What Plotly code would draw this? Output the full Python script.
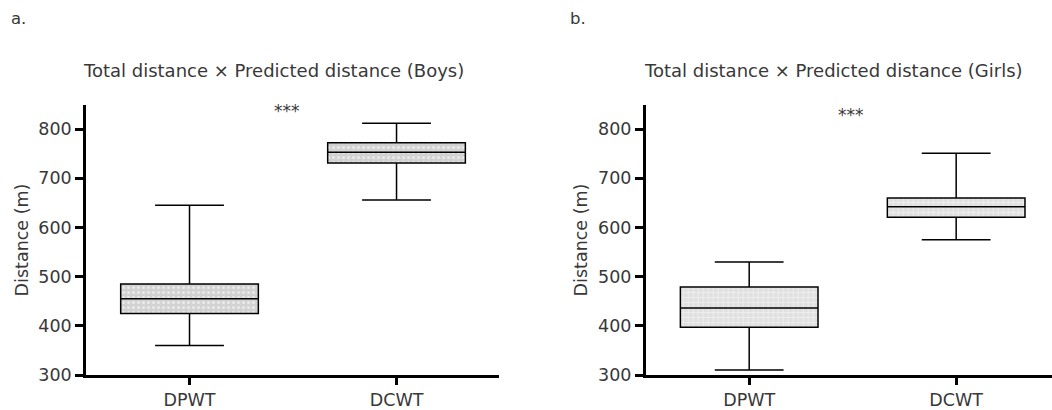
import plotly.graph_objects as go

categories = ["DPWT", "DCWT"]

boys_min = [360, 656]
boys_q1 = [425, 731]
boys_median = [455, 753]
boys_q3 = [485, 772]
boys_max = [645, 812]

girls_min = [310, 575]
girls_q1 = [397, 621]
girls_median = [436, 642]
girls_q3 = [479, 660]
girls_max = [530, 751]

titles = ["Total distance × Predicted distance (Boys)", "Total distance × Predicted distance (Girls)"]
panel_labels = ["a.", "b."]
y_title = "Distance (m)"
y_ticks = [300, 400, 500, 600, 700, 800]
sig = "***"

FONT = "DejaVu Sans"
W = "normal"
TXT = "#383838"

FW, FH = 1052, 410


def px(X):
    return X / FW


def py(Y):
    return 1 - Y / FH


def f(size):
    return dict(family=FONT, size=size, color=TXT, weight=W)


fig = go.Figure()

panels = [
    (boys_min, boys_q1, boys_median, boys_q3, boys_max, "x", "y", "#d2d2d2", "."),
    (girls_min, girls_q1, girls_median, girls_q3, girls_max, "x2", "y2", "#e0e0e0", "+"),
]
for mn, q1, md, q3, mx, xa, ya, fill, shp in panels:
    fig.add_trace(go.Bar(
        x=categories, base=q1, y=[b - a for a, b in zip(q1, q3)],
        width=0.665, xaxis=xa, yaxis=ya, showlegend=False, hoverinfo="skip",
        marker=dict(color=fill, line=dict(width=0),
                    pattern=dict(shape=shp, fgcolor="white", bgcolor=fill, size=5, solidity=0.3)),
    ))
    fig.add_trace(go.Box(
        x=categories, q1=q1, median=md, q3=q3, lowerfence=mn, upperfence=mx,
        width=0.665, whiskerwidth=0.5, xaxis=xa, yaxis=ya, showlegend=False,
        fillcolor="rgba(0,0,0,0)", line=dict(color="black", width=1.5),
        boxpoints=False,
    ))

axis_common = dict(showline=True, linecolor="black", linewidth=2.5, showgrid=False,
                   zeroline=False, ticks="outside", tickwidth=2.5, tickcolor="black",
                   tickfont=f(17.5), automargin=False)

fig.update_layout(
    width=FW, height=FH,
    margin=dict(l=0, r=0, t=0, b=0),
    plot_bgcolor="white", paper_bgcolor="white",
    barmode="overlay",
    xaxis=dict(domain=[px(86), px(499)], range=[-0.5, 1.495], ticklen=7, anchor="y", **axis_common),
    xaxis2=dict(domain=[px(645.7), 1.0], range=[-0.5, 1.463], ticklen=7, anchor="y2", **axis_common),
    yaxis=dict(domain=[py(375), py(105)], range=[300, 849], tickvals=y_ticks, ticklen=8, anchor="x",
               title=dict(text=y_title, font=f(17.5), standoff=6), **axis_common),
    yaxis2=dict(domain=[py(375), py(105)], range=[300, 849], tickvals=y_ticks, ticklen=8, anchor="x2",
                title=dict(text=y_title, font=f(17.5), standoff=6), **axis_common),
)

ann = []
for txt, xc in zip(titles, [273.5, 833.5]):
    ann.append(dict(text=txt, x=px(xc), y=py(70), xref="paper", yref="paper",
                    xanchor="center", yanchor="middle", showarrow=False, font=f(18)))
for txt, xl in zip(panel_labels, [9, 568]):
    ann.append(dict(text=txt, x=px(xl), y=py(18), xref="paper", yref="paper",
                    xanchor="left", yanchor="middle", showarrow=False, font=f(16.5)))
ann.append(dict(text=sig, x=0.47, y=836, xref="x", yref="y", showarrow=False,
                xanchor="center", yanchor="middle", font=f(17)))
ann.append(dict(text=sig, x=0.49, y=828, xref="x2", yref="y2", showarrow=False,
                xanchor="center", yanchor="middle", font=f(17)))
fig.update_layout(annotations=ann)

fig.write_html("out.html", config={"displayModeBar": False},
               post_script="document.body.style.margin='0';")
